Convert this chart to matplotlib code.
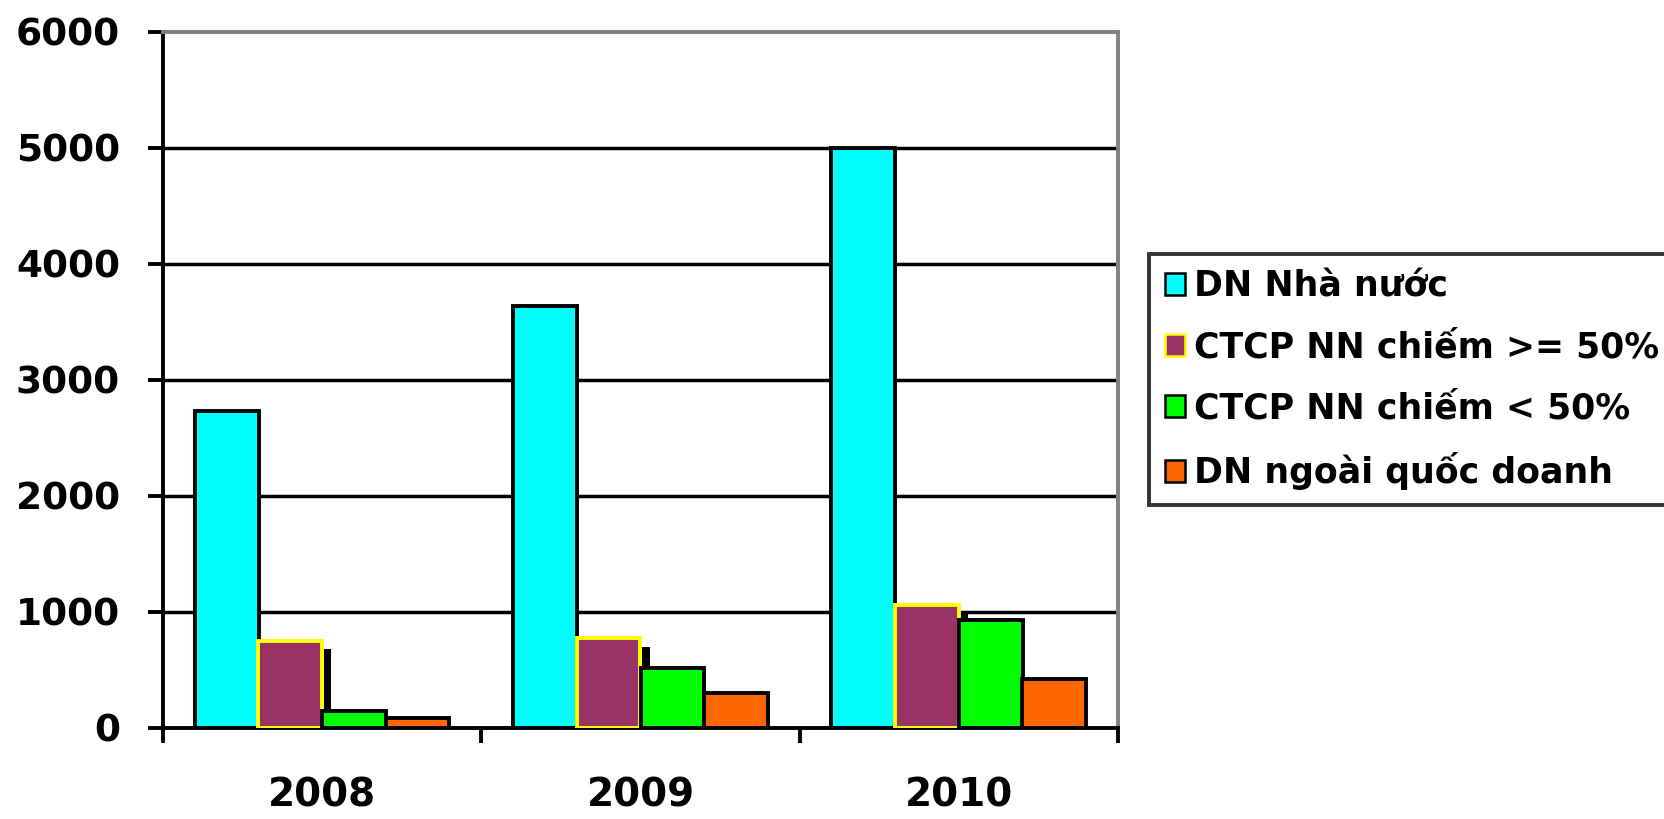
import matplotlib
matplotlib.use("Agg")
import matplotlib.pyplot as plt
import numpy as np
from matplotlib.patches import Patch

plt.rcParams["font.family"] = ["DejaVu Sans"]
plt.rcParams["font.weight"] = "bold"

years = ["2008", "2009", "2010"]
series = ["DN Nhà nước", "CTCP NN chiếm >= 50%", "CTCP NN chiếm < 50%", "DN ngoài quốc doanh"]
dn_nha_nuoc = [2730, 3640, 5000]
ctcp_ge50 = [750, 780, 1060]
ctcp_lt50 = [150, 520, 930]
dn_ngoai_qd = [90, 300, 420]
# black sliver showing behind the purple bars in the original picture
shadow = [680, 700, 990]
yticks = [0, 1000, 2000, 3000, 4000, 5000, 6000]

colors = ["#00FFFF", "#993366", "#00FF00", "#FF6600"]
edges = ["black", "#FFFF00", "black", "black"]
values = [dn_nha_nuoc, ctcp_ge50, ctcp_lt50, dn_ngoai_qd]

DPI = 100
fig = plt.figure(figsize=(16.64, 8.19), dpi=DPI)
ax = fig.add_axes([163 / 1664, 1 - 728 / 819, (1118 - 163) / 1664, (728 - 32) / 819])

x = np.arange(len(years))
w = 0.2
offsets = [-0.3, -0.1, 0.1, 0.3]
LW = 2.8

for yv in yticks[1:-1]:
    ax.axhline(yv, color="black", lw=2.5, zorder=1)

ax.bar(x + 0.005, shadow, width=0.024, align="edge", color="black", lw=0, zorder=2)
for vals, off, c, ec in zip(values, offsets, colors, edges):
    ax.bar(x + off, vals, width=w, color=c, edgecolor=ec, lw=LW, zorder=3)

ax.set_xlim(-0.5, 2.5)
ax.set_ylim(0, 6000)
ax.set_yticks(yticks)
ax.set_yticklabels([str(v) for v in yticks], fontsize=27, fontweight="bold")
ax.tick_params(axis="y", direction="out", length=11, width=LW, pad=20)

ax.set_xticks([-0.5, 0.5, 1.5, 2.5])
ax.set_xticklabels([])
ax.set_xticks(x, minor=True)
ax.set_xticklabels(years, minor=True, fontsize=28, fontweight="bold")
ax.tick_params(axis="x", which="major", direction="out", length=11, width=LW)
ax.tick_params(axis="x", which="minor", length=0, pad=35)

ax.spines["left"].set_linewidth(LW)
ax.spines["bottom"].set_linewidth(LW)
ax.spines["top"].set_color("#808080")
ax.spines["right"].set_color("#808080")
ax.spines["top"].set_linewidth(LW)
ax.spines["right"].set_linewidth(LW)

handles = [Patch(facecolor=c, edgecolor=ec, lw=1.8) for c, ec in zip(colors, edges)]
leg = fig.legend(handles, series, loc="upper left",
                 bbox_to_anchor=(1149 / 1664, 1 - 254 / 819),
                 prop={"size": 25, "weight": "bold"},
                 frameon=True, fancybox=False, edgecolor="black",
                 handlelength=0.6, handleheight=0.6, handletextpad=0.25,
                 labelspacing=0.77, borderpad=0.45, borderaxespad=0)
leg.get_frame().set_linewidth(LW)

fig.savefig("out.png", dpi=DPI, facecolor="white")
